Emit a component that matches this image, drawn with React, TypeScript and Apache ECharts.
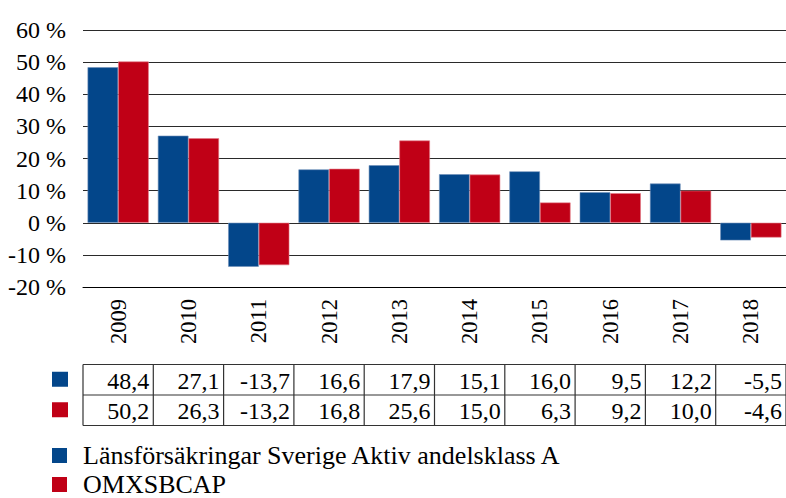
import React, { useEffect, useRef } from "react";
import * as echarts from "echarts";

const years = ["2009", "2010", "2011", "2012", "2013", "2014", "2015", "2016", "2017", "2018"];
const fundName = "Länsförsäkringar Sverige Aktiv andelsklass A";
const indexName = "OMXSBCAP";
const fundValues = [48.4, 27.1, -13.7, 16.6, 17.9, 15.1, 16.0, 9.5, 12.2, -5.5];
const indexValues = [50.2, 26.3, -13.2, 16.8, 25.6, 15.0, 6.3, 9.2, 10.0, -4.6];
const yMin = -20;
const yMax = 60;
const yInterval = 10;

const BLUE = "#03468A";
const RED = "#C00016";
const FONT = "'Liberation Serif', 'Times New Roman', serif";

const fmt = (v: number) => v.toFixed(1).replace(".", ",");

const legendFor = (name: string, top: number) => ({
  orient: "vertical",
  left: 52,
  top,
  padding: 0,
  itemWidth: 15,
  itemHeight: 15,
  icon: "rect",
  itemStyle: { borderWidth: 0 },
  data: [name],
  textStyle: {
    fontFamily: FONT,
    fontSize: 26,
    color: "#000",
    lineHeight: 26,
    padding: [0, 0, 0, 11],
  },
});

export default function App() {
  const ref = useRef<HTMLDivElement>(null);
  useEffect(() => {
    if (!ref.current) return;
    const chart = echarts.init(ref.current, null, { renderer: "svg" });
    const option: any = {
      animation: false,
      textStyle: { fontFamily: FONT },
      grid: { left: 83, right: 0, top: 30, bottom: 211, containLabel: false },
      legend: [legendFor(fundName, 442.5), legendFor(indexName, 471.5)],
      xAxis: {
        type: "category",
        data: years,
        axisLine: { onZero: false, lineStyle: { color: "#000", width: 1 } },
        axisTick: { show: false },
        axisLabel: {
          rotate: 90,
          margin: 12,
          fontFamily: FONT,
          fontSize: 22.5,
          color: "#000",
        },
      },
      yAxis: {
        type: "value",
        min: yMin,
        max: yMax,
        interval: yInterval,
        axisLine: { show: false },
        axisTick: { show: false },
        axisLabel: {
          formatter: "{value} %",
          margin: 17,
          fontFamily: FONT,
          fontSize: 24,
          color: "#000",
        },
        splitLine: { lineStyle: { color: "#2a2a2a", width: 1.2 } },
      },
      series: [
        {
          name: fundName,
          type: "bar",
          data: fundValues,
          barGap: "0%",
          barCategoryGap: "13%",
          itemStyle: { color: BLUE, borderColor: "#6f8fb8", borderWidth: 0.6 },
        },
        {
          name: indexName,
          type: "bar",
          data: indexValues,
          barGap: "0%",
          barCategoryGap: "13%",
          itemStyle: { color: RED, borderColor: "#e27a86", borderWidth: 0.6 },
        },
      ],
    };
    chart.setOption(option);

    const c0 = chart.convertToPixel({ xAxisIndex: 0 }, years[0]) as number;
    const c1 = chart.convertToPixel({ xAxisIndex: 0 }, years[1]) as number;
    const cw = c1 - c0;
    const left = c0 - cw / 2;
    const rowTop = 364.5;
    const rowH = 30.5;
    const rows = [fundValues, indexValues];
    const colors = [BLUE, RED];
    const graphics: any[] = [];
    const lineStyle = { stroke: "#333", lineWidth: 1.2 };
    for (let r = 0; r <= rows.length; r++) {
      const y = rowTop + r * rowH;
      graphics.push({
        type: "line",
        shape: { x1: left, y1: y, x2: left + cw * years.length, y2: y },
        style: lineStyle,
      });
    }
    for (let k = 0; k <= years.length; k++) {
      const x = left + k * cw;
      graphics.push({
        type: "line",
        shape: { x1: x, y1: rowTop, x2: x, y2: rowTop + rowH * rows.length },
        style: lineStyle,
      });
    }
    rows.forEach((vals, r) => {
      const cy = rowTop + r * rowH + rowH / 2;
      graphics.push({
        type: "rect",
        shape: { x: 52, y: cy - 8, width: 16, height: 15 },
        style: { fill: colors[r] },
      });
      vals.forEach((v, i) => {
        const cx = chart.convertToPixel({ xAxisIndex: 0 }, years[i]) as number;
        graphics.push({
          type: "text",
          x: cx + cw / 2 - 4,
          y: cy + 1,
          style: {
            text: fmt(v),
            align: "right",
            verticalAlign: "middle",
            fontFamily: FONT,
            fontSize: 24,
            fill: "#000",
          },
        });
      });
    });
    chart.setOption({ graphic: graphics });

    return () => chart.dispose();
  }, []);
  return (
    <div
      ref={ref}
      style={{ position: "fixed", left: 0, top: 0, width: 786, height: 498, background: "#fff" }}
    />
  );
}
